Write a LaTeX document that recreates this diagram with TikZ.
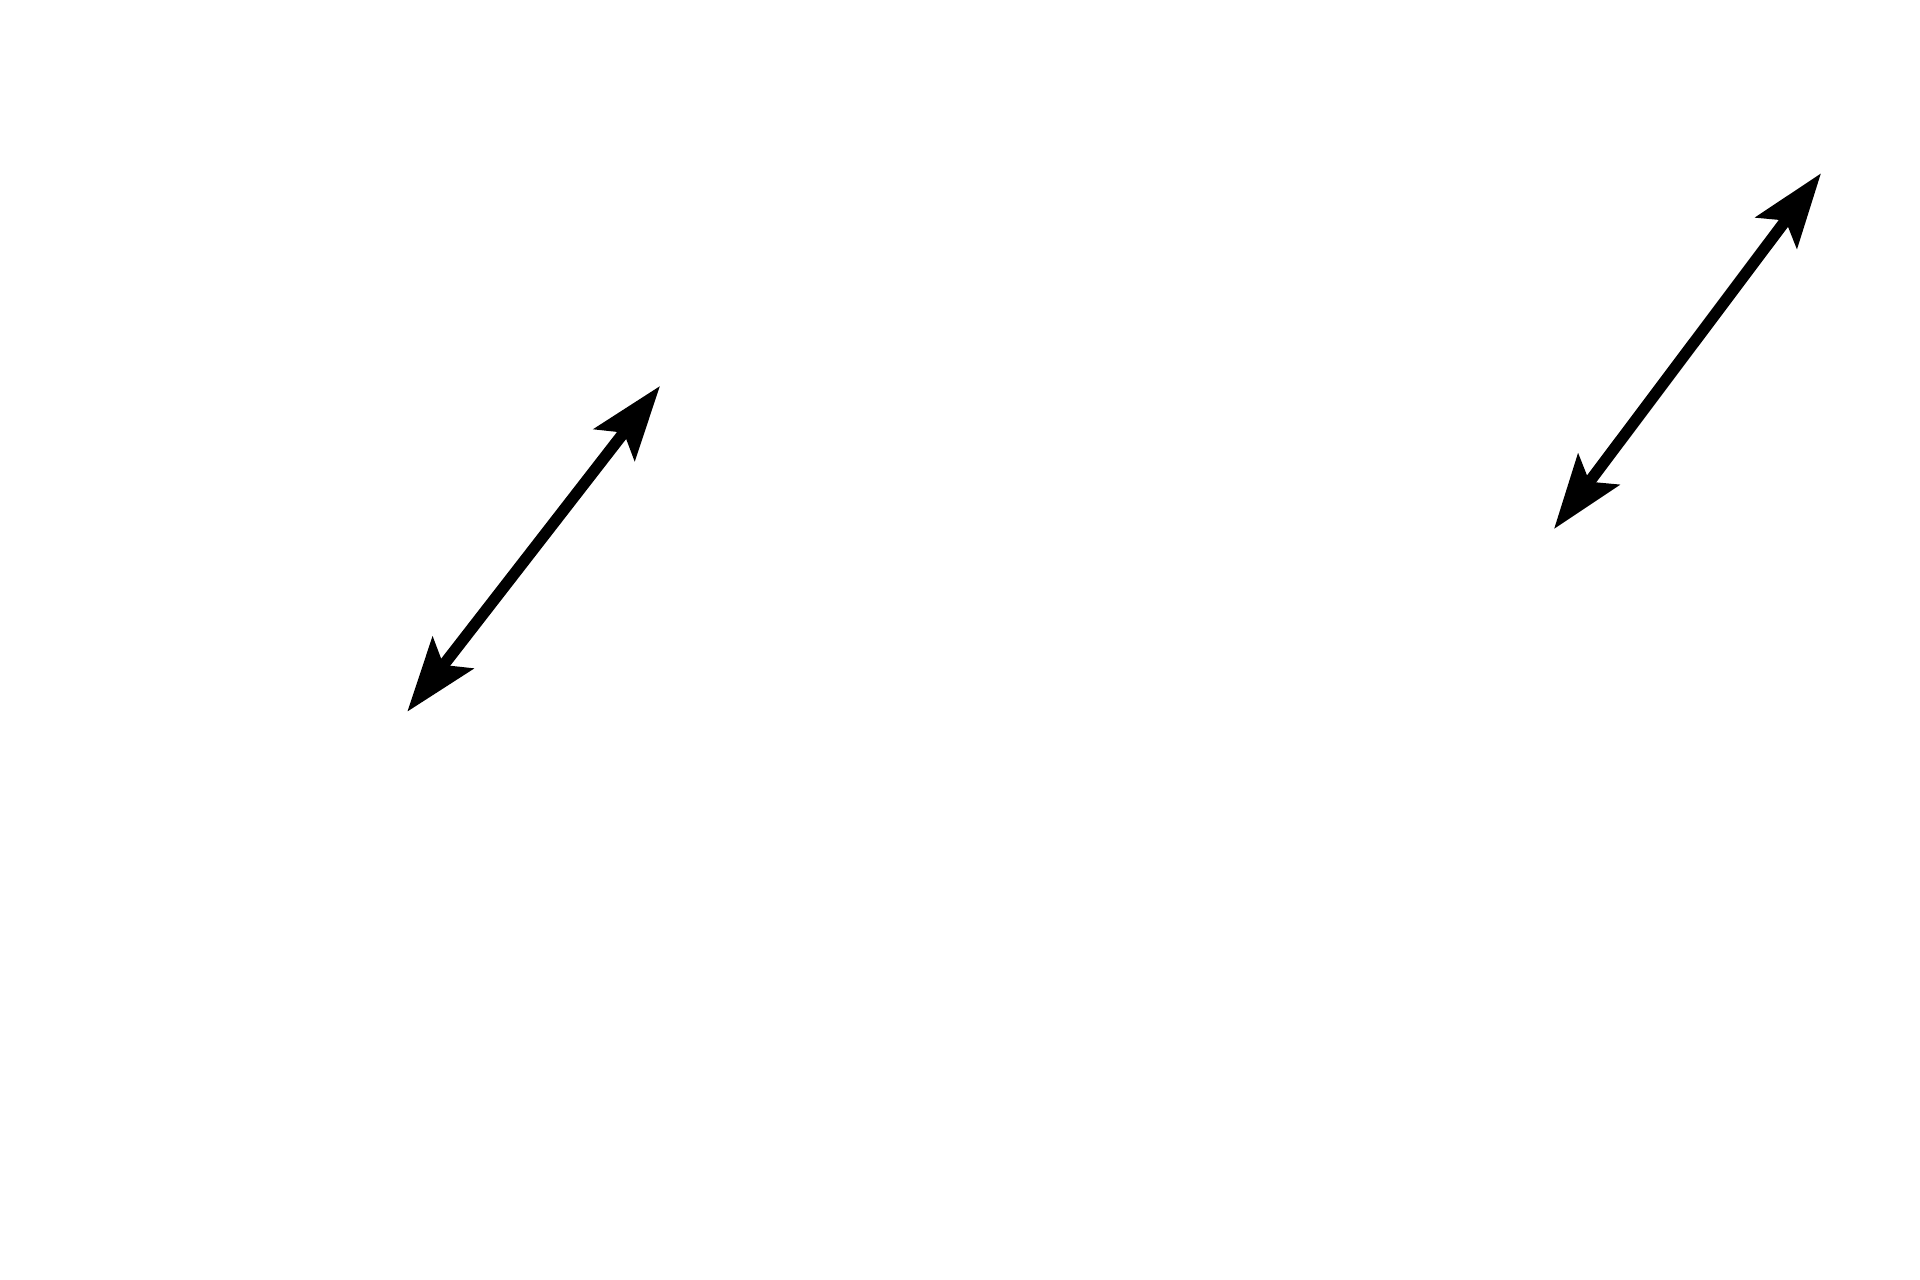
\documentclass[tikz,border=0pt]{standalone}
\usepackage{tikz}
\usetikzlibrary{arrows.meta}
\tikzset{twoway/.style={line width=0.115cm,
  {Stealth[length=0.74cm,width=0.51cm,inset=0.15cm]}-{Stealth[length=0.74cm,width=0.51cm,inset=0.15cm]}}}

\begin{document}
\begin{tikzpicture}
\useasboundingbox (0,0) rectangle (19.2,12.8);
\coordinate (leftlow) at (4.073,5.683);
\coordinate (lefthigh) at (6.60,8.94);
\coordinate (rightlow) at (15.54,7.51);
\coordinate (righthigh) at (18.21,11.067);
\draw[twoway] (leftlow) -- (lefthigh);
\draw[twoway] (rightlow) -- (righthigh);
\end{tikzpicture}
\end{document}
